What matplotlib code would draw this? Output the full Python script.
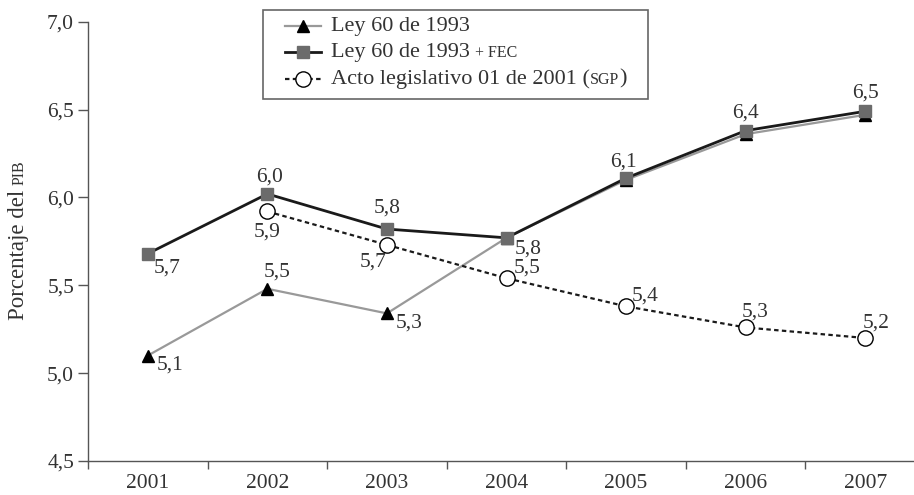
import matplotlib
matplotlib.use("Agg")
import matplotlib.pyplot as plt
from matplotlib.lines import Line2D
from matplotlib.patches import Rectangle
from matplotlib.offsetbox import AnchoredOffsetbox, DrawingArea, TextArea, HPacker, VPacker

plt.rcParams['font.family'] = ['Liberation Serif', 'DejaVu Serif']

years = [2001, 2002, 2003, 2004, 2005, 2006, 2007]
ley60 = [5.10, 5.48, 5.34, 5.77, 6.10, 6.36, 6.47]
ley60_fec = [5.68, 6.02, 5.82, 5.77, 6.11, 6.38, 6.49]
acto_years = [2002, 2003, 2004, 2005, 2006, 2007]
acto = [5.92, 5.73, 5.54, 5.38, 5.26, 5.20]
yticks = [4.5, 5.0, 5.5, 6.0, 6.5, 7.0]

# label offsets in pixels (None = no label)
off_ley = [(22, -9), (10, 17), (22, -10), None, None, None, None]
off_fec = [(19, -14), (2, 17), (0, 21), (22, -11), (-3, 16), (0, 18), (0, 18)]
off_acto = [(0, -21), (-14, -17), (21, 10), (19, 10), (9, 15), (11, 15)]

TXT = '#333333'
FS = 15.5

fig = plt.figure(figsize=(9.14, 4.95), dpi=100)
W, H = 914, 495
ax = fig.add_axes([88 / W, 1 - 461 / H, (925 - 88) / W, (461 - 21.7) / H])

ax.plot(years, ley60, color='#999999', lw=1.6, marker='^', ms=9,
        mfc='black', mec='black', zorder=3)
ax.plot(years, ley60_fec, color='#1a1a1a', lw=2.0, marker='s', ms=8,
        mfc='#6b6b6b', mec='#6b6b6b', zorder=4)
ax.plot(acto_years, acto, color='#1a1a1a', lw=1.6, ls=(0, (2, 1.5)),
        marker='o', ms=11, mfc='white', mec='black', mew=1.0, zorder=5)


def lab(v):
    return f"{v:.1f}".replace('.', ',')


for xs, ys, offs in [(years, ley60, off_ley), (years, ley60_fec, off_fec),
                     (acto_years, acto, off_acto)]:
    for x, y, o in zip(xs, ys, offs):
        if o is None:
            continue
        ax.annotate(lab(y), (x, y), xytext=o, textcoords='offset pixels',
                    ha='center', va='center', fontsize=FS, color=TXT, zorder=6)

ax.set_xlim(2000.5, 2007.5)
ax.set_ylim(4.5, 7.0)
ax.set_xticks(years)
ax.set_xticklabels([str(y) for y in years])
ax.set_xticks([y - 0.5 for y in years] + [2007.5], minor=True)
ax.tick_params(axis='x', which='major', length=0, pad=9, labelsize=FS, labelcolor=TXT)
ax.tick_params(axis='x', which='minor', length=6, width=1, color='#555555', direction='out')
ax.set_yticks(yticks)
ax.set_yticklabels([lab(v) for v in yticks])
ax.tick_params(axis='y', length=7, width=1, color='#555555', pad=3, labelsize=FS, labelcolor=TXT)
for s in ['top', 'right']:
    ax.spines[s].set_visible(False)
for s in ['left', 'bottom']:
    ax.spines[s].set_color('#555555')
    ax.spines[s].set_linewidth(1.0)

# y label with small caps part
t1 = fig.text(24 / W, 1 - 320 / H, "Porcentaje del", rotation=90, rotation_mode='anchor',
              ha='left', va='baseline', fontsize=16.5, color=TXT)
fig.canvas.draw()
bb = t1.get_window_extent()
fig.text(24 / W, (bb.y1 + 5) / H, "PIB", rotation=90, rotation_mode='anchor',
         ha='left', va='baseline', fontsize=11.5, color=TXT)

# legend
fig.add_artist(Rectangle((263 / W, 1 - 99 / H), (648 - 263) / W, 89 / H,
                         transform=fig.transFigure, fill=False, ec='#666666', lw=1.2))


def handle(**kw):
    da = DrawingArea(26, 12, 0, 0)
    da.add_artist(Line2D([0, 26], [6, 6], color=kw['color'], lw=kw['lw'], ls=kw.get('ls', '-')))
    da.add_artist(Line2D([13], [6], marker=kw['marker'], ms=kw['ms'], mfc=kw['mfc'],
                         mec=kw['mec'], ls='none'))
    return da


rows = []
entries = [
    (dict(color='#999999', lw=1.6, marker='^', ms=9, mfc='black', mec='black'),
     "Ley 60 de 1993", "", ""),
    (dict(color='#1a1a1a', lw=2.0, marker='s', ms=8, mfc='#6b6b6b', mec='#6b6b6b'),
     "Ley 60 de 1993 ", "+ FEC", ""),
    (dict(color='#1a1a1a', lw=1.6, ls=(0, (2, 1.5)), marker='o', ms=11, mfc='white', mec='black'),
     "Acto legislativo 01 de 2001 (", "SGP", ")"),
]
for st, main, small, tail in entries:
    parts = [TextArea(main, textprops=dict(fontsize=16, color=TXT))]
    if small:
        parts.append(TextArea(small, textprops=dict(fontsize=11.5, color=TXT)))
    if tail:
        parts.append(TextArea(tail, textprops=dict(fontsize=16, color=TXT)))
    txt = HPacker(children=parts, align='baseline', pad=0, sep=0)
    rows.append(HPacker(children=[handle(**st), txt], align='center', pad=0, sep=7))
box = VPacker(children=rows, align='left', pad=0, sep=5)
anch = AnchoredOffsetbox(loc='upper left', child=box, pad=0, borderpad=0, frameon=False,
                         bbox_to_anchor=(285 / W, 1 - 17 / H), bbox_transform=fig.transFigure)
fig.add_artist(anch)

fig.savefig('out.png', dpi=100)
